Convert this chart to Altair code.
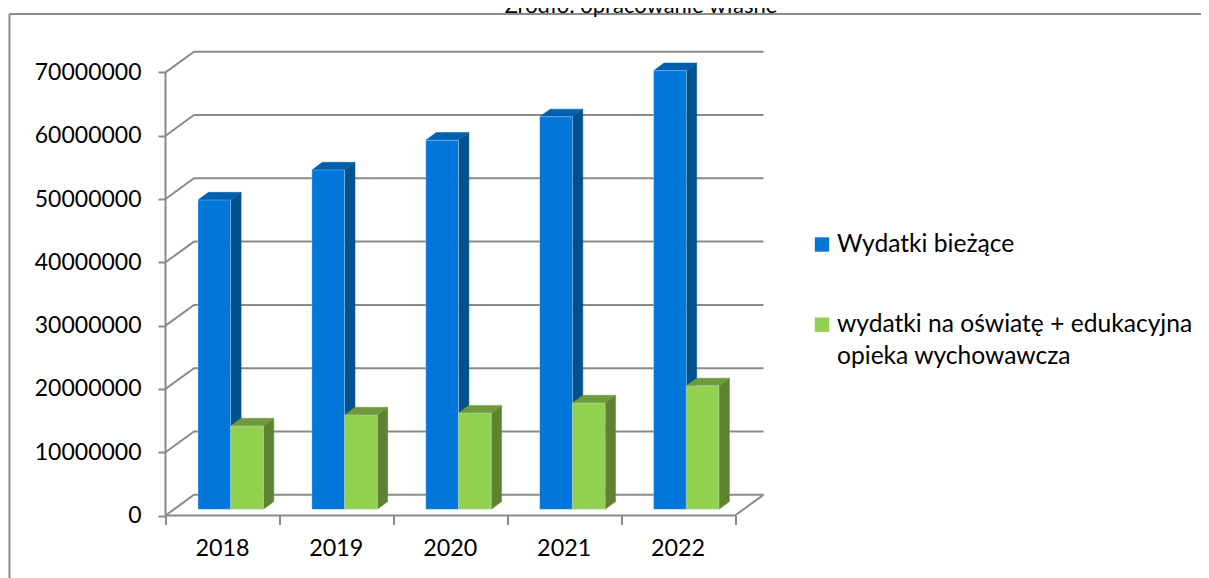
import altair as alt
import pandas as pd

years = ["2018", "2019", "2020", "2021", "2022"]
current = [48860000, 53600000, 58300000, 62000000, 69300000]
education = [13160000, 14900000, 15200000, 16800000, 19500000]
series_names = ["Wydatki bieżące", "wydatki na oświatę + edukacyjna opieka wychowawcza"]
legend_lines = [["Wydatki bieżące"], ["wydatki na oświatę + edukacyjna", "opieka wychowawcza"]]
y_ticks = [0, 10000000, 20000000, 30000000, 40000000, 50000000, 60000000, 70000000]
x_ticks = [0, 1, 2, 3, 4, 5]
front_colors = ["#0077D9", "#92D050"]
side_colors = ["#00528F", "#5F8232"]
top_colors = ["#0060AD", "#6E9A3C"]
title_text = "Źródło: opracowanie własne"

FONT = "Lato"
GRAY = "#8A8A8A"
X0, Y0 = 165.5, 515.5
PX_X = 113.9
PX_Y = 63.3 / 1e7
W, H = 598.5, 464.5
WALL_DX, WALL_DY = 28.5 / PX_X, 20.7 / PX_Y
BAR_DX, BAR_DY = 10.4 / PX_X, 7.7 / PX_Y
BASE = 6.2 / PX_Y
BAR_START = 32.5 / PX_X
BAR_W = 32.7 / PX_X


def dx(px):
    return (px - X0) / PX_X


def dy(px):
    return (Y0 - px) / PX_Y


xs = alt.Scale(domain=[0, W / PX_X], nice=False, zero=False)
ys = alt.Scale(domain=[0, H / PX_Y], nice=False, zero=False)

wall = []
for v in y_ticks:
    wall.append(dict(id=f"g{v}", o=0, x=0, y=v))
    wall.append(dict(id=f"g{v}", o=1, x=WALL_DX, y=v + WALL_DY))
    wall.append(dict(id=f"g{v}", o=2, x=5 + WALL_DX, y=v + WALL_DY))
wall += [dict(id="axisY", o=0, x=0, y=0), dict(id="axisY", o=1, x=0, y=y_ticks[-1])]
wall += [dict(id="axisX", o=0, x=0, y=0), dict(id="axisX", o=1, x=5, y=0),
         dict(id="axisX", o=2, x=5 + WALL_DX, y=WALL_DY)]

wall_layer = alt.Chart(pd.DataFrame(wall)).mark_line(color=GRAY, strokeWidth=2, clip=False).encode(
    x=alt.X("x:Q", scale=xs, title=None,
            axis=alt.Axis(values=x_ticks, labels=False, domain=False, grid=False, tickSize=9,
                          tickWidth=2, tickColor=GRAY, title=None)),
    y=alt.Y("y:Q", scale=ys, title=None,
            axis=alt.Axis(values=y_ticks, domain=False, grid=False, tickSize=7.5, tickWidth=2,
                          tickColor=GRAY, format="d", labelFont=FONT, labelFontSize=23,
                          labelColor="#000000", labelPadding=17, title=None)),
    detail="id:N",
    order="o:Q",
)


def poly(rows, fill):
    return alt.Chart(pd.DataFrame(rows)).mark_line(fill=fill, stroke=fill, strokeWidth=0.5).encode(
        x=alt.X("x:Q", scale=xs), y=alt.Y("y:Q", scale=ys), detail="id:N", order="o:Q")


layers = [wall_layer]
for s, vals in enumerate([current, education]):
    side, top, front = [], [], []
    for i, v in enumerate(vals):
        xl = i + BAR_START + s * BAR_W
        xr = xl + BAR_W
        t = v + BASE
        for o, (px, py) in enumerate([(xr, t), (xr + BAR_DX, t + BAR_DY), (xr + BAR_DX, BASE + BAR_DY), (xr, BASE)]):
            side.append(dict(id=str(i), o=o, x=px, y=py))
        for o, (px, py) in enumerate([(xl, t), (xl + BAR_DX, t + BAR_DY), (xr + BAR_DX, t + BAR_DY), (xr, t)]):
            top.append(dict(id=str(i), o=o, x=px, y=py))
        front.append(dict(year=years[i], x=xl, x2=xr, y=t, y2=BASE, series=series_names[s]))
    layers.append(poly(side, side_colors[s]))
    layers.append(poly(top, top_colors[s]))
    layers.append(alt.Chart(pd.DataFrame(front)).mark_rect(
        color=front_colors[s], stroke="#CFE6F7", strokeWidth=0.5, strokeOpacity=0.7).encode(
        x=alt.X("x:Q", scale=xs), x2="x2:Q", y=alt.Y("y:Q", scale=ys), y2="y2:Q"))

year_df = pd.DataFrame({"year": years, "x": [i + 0.5 for i in range(len(years))], "y": [dy(549)] * len(years)})
layers.append(alt.Chart(year_df).mark_text(font=FONT, fontSize=23.3, color="#000000", baseline="middle").encode(
    x=alt.X("x:Q", scale=xs), y=alt.Y("y:Q", scale=ys), text="year:N"))

sq_df = pd.DataFrame({"x": [dx(822), dx(822)], "y": [dy(244.5), dy(324.7)], "c": front_colors, "series": series_names})
layers.append(alt.Chart(sq_df).mark_square(size=207, opacity=1).encode(
    x=alt.X("x:Q", scale=xs), y=alt.Y("y:Q", scale=ys), fill=alt.Fill("c:N", scale=None)))

txt_rows = [(legend_lines[0][0], 251.7), (legend_lines[1][0], 331.7), (legend_lines[1][1], 363.5)]
txt_df = pd.DataFrame({"t": [r[0] for r in txt_rows], "x": [dx(837)] * 3, "y": [dy(r[1]) for r in txt_rows]})
layers.append(alt.Chart(txt_df).mark_text(font=FONT, fontSize=24.6, color="#000000", align="left", baseline="alphabetic").encode(
    x=alt.X("x:Q", scale=xs), y=alt.Y("y:Q", scale=ys), text="t:N"))

title_df = pd.DataFrame({"t": [title_text], "x": [dx(641)], "y": [dy(12.5)]})
layers.append(alt.Chart(title_df).mark_text(font=FONT, fontSize=22, color="#000000", align="center", baseline="alphabetic").encode(
    x=alt.X("x:Q", scale=xs), y=alt.Y("y:Q", scale=ys), text="t:N"))

frame_v = alt.Chart(pd.DataFrame({"k": [0]})).mark_rule(color=GRAY, strokeWidth=2).encode(
    x=alt.value(-156), y=alt.value(-37), y2=alt.value(600))
frame_h = alt.Chart(pd.DataFrame({"k": [0]})).mark_rule(color=GRAY, strokeWidth=2).encode(
    x=alt.value(-156), x2=alt.value(1100), y=alt.value(-37))
layers = [frame_v, frame_h] + layers

chart = alt.layer(*layers).properties(
    width=W, height=H,
    padding={"left": 157.5, "top": 43, "right": 437, "bottom": 62.5},
    autosize=alt.AutoSizeParams(type="none"),
    background="#FFFFFF",
).configure_view(stroke=None)

chart.save("out.html", embed_options={"renderer": "svg", "actions": False})
